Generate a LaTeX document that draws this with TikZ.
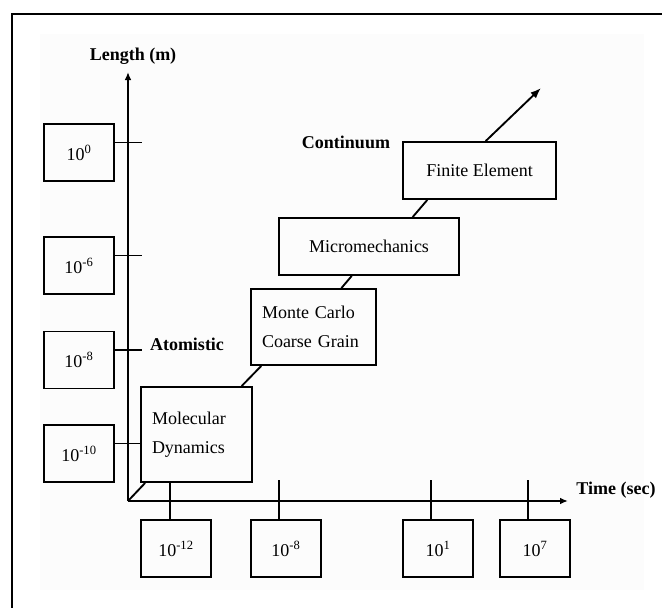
\documentclass[tikz,border=0pt]{standalone}
\usepackage{fontspec}
\setmainfont{Liberation Serif}
\usetikzlibrary{arrows.meta,calc}
\begin{document}
\begin{tikzpicture}[x=0.75pt,y=-0.75pt,
  line width=1.4pt,
  every node/.style={font=\fontsize{13.5}{22}\selectfont},
  valbox/.style={draw, minimum width=52.5pt, minimum height=42.75pt, inner sep=0pt},
  methbox/.style={draw, inner xsep=8.25pt, inner ysep=0pt, align=left},
  lbl/.style={font=\fontsize{13.5}{16}\selectfont\bfseries},
  tip/.style={-{Latex[length=6pt,width=5pt]}}
]
\useasboundingbox (0,0) rectangle (662,608);
\fill[black!1] (40,34) rectangle (644,590);
\draw[line width=2.2pt] (12,608) -- (12,14) -- (662,14);

% axes
\coordinate (o) at (128,501);
\coordinate (ytop) at (128,72);
\coordinate (xend) at (568,501);
\draw[tip] (o) -- (ytop);
\draw[tip] (o) -- (xend);
\node[lbl] (ylab) at (133,56) {Length (m)};
\node[lbl, anchor=west] (xlab) at (571,490) {Time (sec)};

% length value boxes
\node[valbox] (l0)  at (79,152.5) {10\textsuperscript{0}};
\node[valbox] (l6)  at (79,265.5) {10\textsuperscript{-6}};
\node[valbox] (l8)  at (79,360)   {10\textsuperscript{-8}};
\node[valbox] (l10) at (79,453.5) {10\textsuperscript{-10}};

% time value boxes
\node[valbox] (b12) at (176,548.5) {10\textsuperscript{-12}};
\node[valbox] (b8)  at (286,548.5) {10\textsuperscript{-8}};
\node[valbox] (b1)  at (438,548.5) {10\textsuperscript{1}};
\node[valbox] (b7)  at (535,548.5) {10\textsuperscript{7}};

% method boxes
\node[methbox, text width=66.75pt, minimum height=71.25pt] (md) at (196.5,434.5) {Molecular\\Dynamics};
\node[methbox, text width=77.25pt, minimum height=57pt] (mc) at (313.5,327) {Monte Carlo\\Coarse Grain};
\node[draw, minimum width=135pt, minimum height=42.75pt, inner sep=0pt] (mm) at (369,246.5) {Micromechanics};
\node[draw, minimum width=114.75pt, minimum height=42.75pt, inner sep=0pt] (fe) at (479.5,170.5) {Finite Element};

\node[lbl] (atom) at (187,344) {Atomistic};
\node[lbl] (cont) at (346,142) {Continuum};

% ticks on length axis
\draw ([yshift=7.5pt]l0.east) -- ++(27,0);
\draw ([yshift=7.5pt]l6.east) -- ++(27,0);
\draw ([yshift=7.5pt]l8.east) -- ++(27,0);
\draw ([yshift=7.5pt]l10.east) -- ([yshift=7.5pt]l10.east -| md.west);

% ticks on time axis
\draw ([xshift=-4.5pt]b12.north) -- ([xshift=-4.5pt]b12.north |- md.south);
\draw ([xshift=-5.25pt]b8.north) -- ++(0,-39);
\draw ([xshift=-5.25pt]b1.north) -- ++(0,-39);
\draw ([xshift=-5.25pt]b7.north) -- ++(0,-39);

% connectors
\draw (o) -- ($(md.south west)!0.045!(md.south east)$);
\draw ($(md.north west)!0.90!(md.north east)$) -- ($(mc.south west)!0.088!(mc.south east)$);
\draw ($(mc.north west)!0.72!(mc.north east)$) -- ($(mm.south west)!0.405!(mm.south east)$);
\draw ($(mm.north west)!0.74!(mm.north east)$) -- ($(fe.south west)!0.163!(fe.south east)$);
\coordinate (fearrow) at (541,88);
\draw[-{Latex[length=8pt,width=6pt]}] ($(fe.north west)!0.54!(fe.north east)$) -- (fearrow);
\end{tikzpicture}
\end{document}
